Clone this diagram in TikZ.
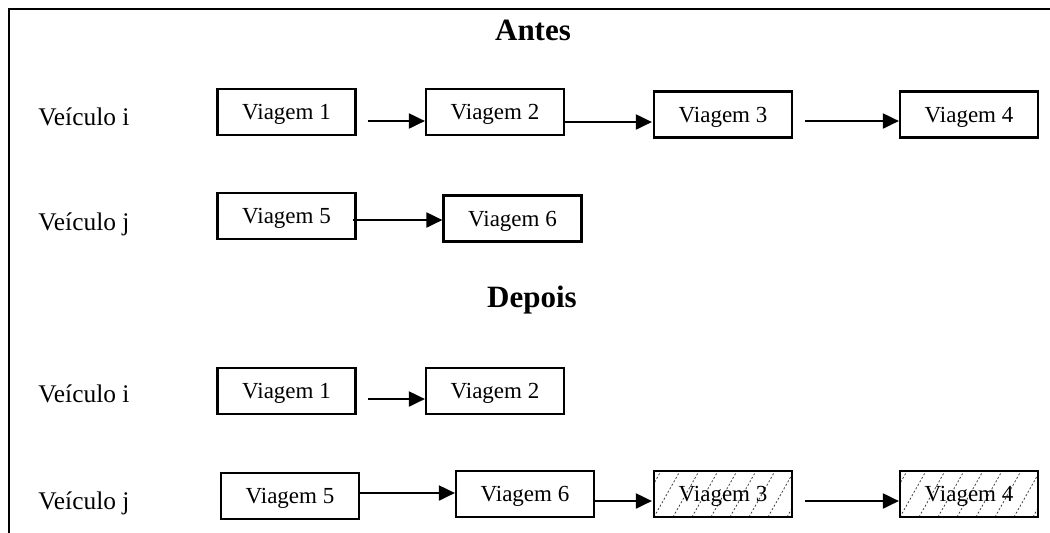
\documentclass[tikz,border=0pt]{standalone}
\usepackage{fontspec}
\setmainfont{Liberation Serif}
\usetikzlibrary{arrows.meta}

\tikzset{
  trip/.style={draw, line width=1.1pt, minimum width=69pt, minimum height=23pt,
               inner sep=0pt, text depth=0pt, font=\fontsize{11.5pt}{13pt}\selectfont},
  moved/.style={trip, path picture={
      \foreach \k in {-2,...,8}
        \draw[black!75, line width=0.4pt, dash pattern=on 1pt off 1pt]
          ([xshift=\k*9.5pt]path picture bounding box.south west) -- ++(13pt,23pt);
    }},
  vehicle/.style={anchor=base west, inner sep=0pt, font=\fontsize{12.7pt}{15pt}\selectfont},
  heading/.style={anchor=base, inner sep=0pt, font=\fontsize{15.5pt}{18pt}\selectfont\bfseries},
  link/.style={line width=1pt, -{Triangle[length=8pt, width=7.5pt]}}
}

\begin{document}
\begin{tikzpicture}[x=0.5pt, y=-0.5pt]
  \useasboundingbox (0,0) rectangle (1050,532);

  % frame
  \draw[line width=1pt] (9,540) -- (9,9) -- (1060,9);

  % before
  \node[heading] (antes) at (533,40) {Antes};
  \node[vehicle] (vi1) at (38,125) {Veículo i};
  \node[vehicle] (vj1) at (38,230) {Veículo j};

  \node[trip] (a1) at (286.5,112) {Viagem 1};
  \node[trip] (a2) at (495,112) {Viagem 2};
  \node[trip] (a3) at (723,114.5) {Viagem 3};
  \node[trip] (a4) at (969,114.5) {Viagem 4};
  \node[trip] (a5) at (286.5,216) {Viagem 5};
  \node[trip] (a6) at (512.5,218.5) {Viagem 6};

  \draw[link] ([shift={(11,9)}]a1.east) -- ([shift={(0,9)}]a2.west);
  \draw[link] ([shift={(-2,10)}]a2.east) -- ([shift={(-1,7.5)}]a3.west);
  \draw[link] ([shift={(12,6.5)}]a3.east) -- ([shift={(0,6.5)}]a4.west);
  \draw[link] ([shift={(-4,4)}]a5.east) -- ([shift={(0,1.5)}]a6.west);

  % after
  \node[heading] (depois) at (532,307) {Depois};
  \node[vehicle] (vi2) at (38,402) {Veículo i};
  \node[vehicle] (vj2) at (38,509) {Veículo j};

  \node[trip] (b1) at (286.5,391) {Viagem 1};
  \node[trip] (b2) at (495,391) {Viagem 2};
  \node[trip] (b5) at (290,496) {Viagem 5};
  \node[trip] (b6) at (525,494) {Viagem 6};
  \node[moved] (b3) at (723,494) {Viagem 3};
  \node[moved] (b4) at (969,494) {Viagem 4};

  \draw[link] ([shift={(11,8)}]b1.east) -- ([shift={(0,8)}]b2.west);
  \draw[link] ([shift={(0,-3)}]b5.east) -- ([shift={(0,-1)}]b6.west);
  \draw[link] ([shift={(0,7)}]b6.east) -- ([shift={(-1,7)}]b3.west);
  \draw[link] ([shift={(12,7)}]b3.east) -- ([shift={(0,7)}]b4.west);
\end{tikzpicture}
\end{document}
